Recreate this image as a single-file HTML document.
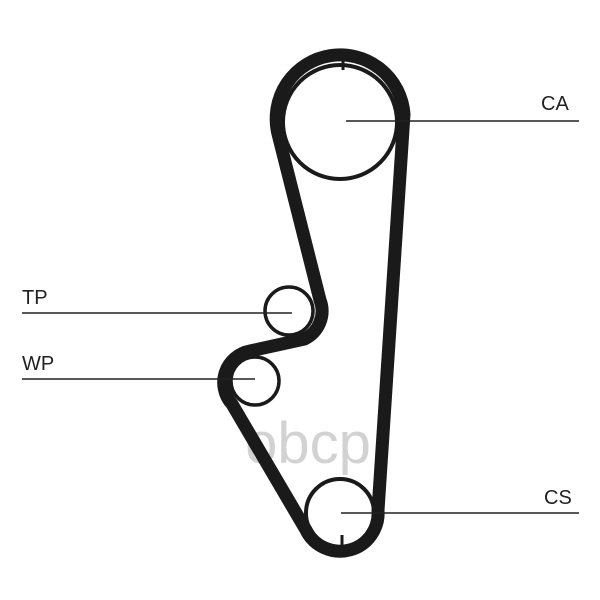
<!DOCTYPE html>
<html><head><style>body{margin:0;background:#fff}svg{display:block}</style></head>
<body>
<svg width="600" height="600" viewBox="0 0 600 600" xmlns="http://www.w3.org/2000/svg" font-family="Liberation Sans, sans-serif">
<rect width="600" height="600" fill="#fff"/>
<text x="308" y="463" font-size="58" fill="#d2d2d2" text-anchor="middle">obcp</text>
<g fill="none" stroke="#1a1a1a">
<path d="M404 114 A64 64 0 1 0 278 134 L320 300 A31 31 0 0 1 304.5 339 L250 351 A32 32 0 0 0 232 404 L306 530 A38 38 0 0 0 378 510.5 Z" stroke-width="13" stroke-linejoin="round"/>
<circle cx="340" cy="122" r="57" stroke-width="4"/>
<circle cx="289" cy="311" r="24" stroke-width="3.5"/>
<circle cx="255" cy="381" r="24" stroke-width="3.5"/>
<circle cx="340" cy="513" r="34" stroke-width="4"/>
<line x1="343" y1="60" x2="343" y2="70" stroke-width="3"/>
<line x1="342" y1="535" x2="342" y2="546" stroke-width="3"/>
<g stroke-width="1.6" stroke="#222">
<line x1="346" y1="121" x2="579" y2="121"/>
<line x1="341" y1="513" x2="579" y2="513"/>
<line x1="22" y1="313" x2="292" y2="313"/>
<line x1="22" y1="379" x2="255" y2="379"/>
</g>
</g>
<g font-size="20" fill="#222">
<text x="541" y="110">CA</text>
<text x="544" y="504">CS</text>
<text x="22" y="304">TP</text>
<text x="22" y="370">WP</text>
</g>
</svg>
</body></html>
